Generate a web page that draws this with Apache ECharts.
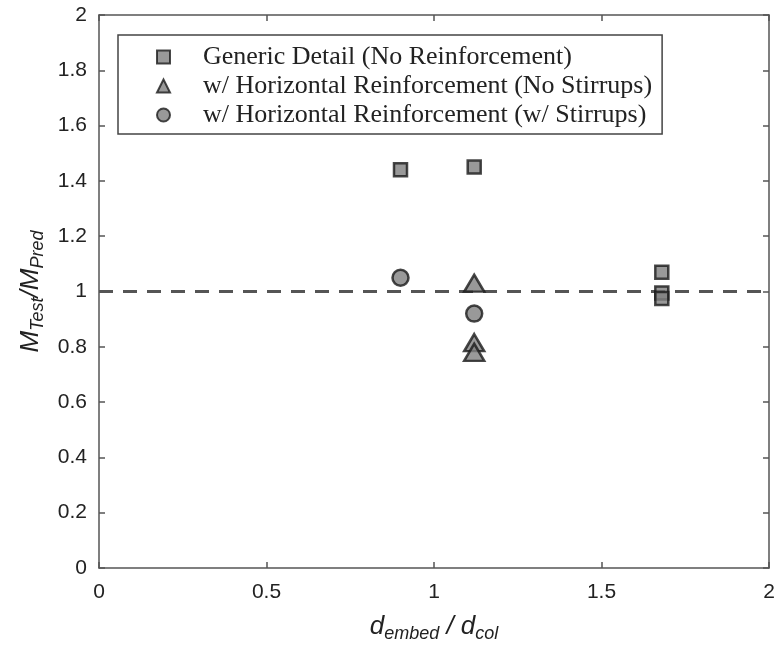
<!DOCTYPE html>
<html>
<head>
<meta charset="utf-8">
<script src="https://cdn.jsdelivr.net/npm/echarts@6/dist/echarts.min.js"></script>
<style>
  html, body { margin: 0; padding: 0; background: #fff; }
  #main { width: 780px; height: 658px; }
</style>
</head>
<body>
<div id="main"></div>
<script>
// data
const seriesNames = [
  'Generic Detail (No Reinforcement)',
  'w/ Horizontal Reinforcement (No Stirrups)',
  'w/ Horizontal Reinforcement (w/ Stirrups)'
];
const genericData = [[0.9, 1.44], [1.12, 1.45], [1.68, 1.07], [1.68, 0.995], [1.68, 0.975]];
const noStirrupData = [[1.12, 1.03], [1.12, 0.815], [1.12, 0.78]];
const stirrupData = [[0.9, 1.05], [1.12, 0.92]];
const xTicks = [0, 0.5, 1, 1.5, 2];
const yTicks = [0, 0.2, 0.4, 0.6, 0.8, 1, 1.2, 1.4, 1.6, 1.8, 2];
const refLine = 1;

let chartDom = document.getElementById('main');
let myChart = echarts.init(chartDom);

const axisColor = '#555';
const markerStyle = { color: '#808080', borderColor: '#1a1a1a', borderWidth: 2.5 };
const nameRich = {
  i: { fontFamily: 'Liberation Sans', fontStyle: 'italic', fontSize: 26, color: '#222' },
  sub: { fontFamily: 'Liberation Sans', fontStyle: 'italic', fontSize: 18, color: '#222', verticalAlign: 'bottom', padding: [15, 0, 0, 0] }
};

function baseAxis(extra) {
  return Object.assign({
    type: 'value',
    axisLine: { show: true, onZero: false, lineStyle: { color: axisColor, width: 1.5 } },
    axisTick: { show: true, inside: true, length: 6, lineStyle: { color: axisColor, width: 1.5 } },
    splitLine: { show: false }
  }, extra);
}

let option = {
  backgroundColor: '#fff',
  animation: false,
  grid: { left: 99, right: 11, top: 15, bottom: 90 },
  legend: {
    orient: 'vertical',
    left: 118,
    top: 35,
    padding: [8, 10, 5, 38],
    itemGap: 1,
    itemWidth: 13,
    itemHeight: 13,
    borderColor: '#444',
    borderWidth: 1.5,
    borderRadius: 0,
    backgroundColor: '#fff',
    textStyle: { fontFamily: 'Liberation Serif', fontSize: 26, lineHeight: 28, color: '#222', padding: [0, 0, 0, 28] },
    data: seriesNames
  },
  xAxis: [
    baseAxis({
      min: 0, max: 2, interval: 0.5,
      position: 'bottom',
      name: '{i|d}{sub|embed}{i| / d}{sub|col}',
      nameLocation: 'middle',
      nameGap: 42,
      nameTextStyle: { rich: nameRich },
      axisLabel: {
        fontFamily: 'Liberation Sans', fontSize: 21, color: '#222', margin: 14,
        formatter: v => xTicks.includes(v) ? String(v) : ''
      }
    }),
    baseAxis({
      min: 0, max: 2, interval: 0.5,
      position: 'top',
      axisLabel: { show: false }
    })
  ],
  yAxis: [
    baseAxis({
      min: 0, max: 2, interval: 0.2,
      position: 'left',
      name: '{i|M}{sub|Test}{i|/M}{sub|Pred}',
      nameLocation: 'middle',
      nameRotate: 90,
      nameGap: 52,
      nameTextStyle: { rich: nameRich },
      axisLabel: {
        fontFamily: 'Liberation Sans', fontSize: 21, color: '#222', margin: 12,
        formatter: v => {
          const t = yTicks.find(k => Math.abs(k - v) < 1e-9);
          return t === undefined ? '' : String(t);
        }
      }
    }),
    baseAxis({
      min: 0, max: 2, interval: 0.2,
      position: 'right',
      axisLabel: { show: false }
    })
  ],
  series: [
    {
      name: seriesNames[0],
      type: 'scatter',
      symbol: 'rect',
      symbolSize: 13,
      itemStyle: markerStyle,
      data: genericData,
      z: 3,
      markLine: {
        silent: true,
        symbol: 'none',
        label: { show: false },
        lineStyle: { color: '#555', width: 3, type: [14, 10] },
        data: [{ yAxis: refLine }],
        z: 2
      }
    },
    {
      name: seriesNames[1],
      type: 'scatter',
      symbol: 'triangle',
      symbolSize: [20, 17],
      itemStyle: markerStyle,
      data: noStirrupData,
      z: 3
    },
    {
      name: seriesNames[2],
      type: 'scatter',
      symbol: 'circle',
      symbolSize: 16,
      itemStyle: markerStyle,
      data: stirrupData,
      z: 3
    }
  ]
};

option && myChart.setOption(option);
</script>
</body>
</html>
